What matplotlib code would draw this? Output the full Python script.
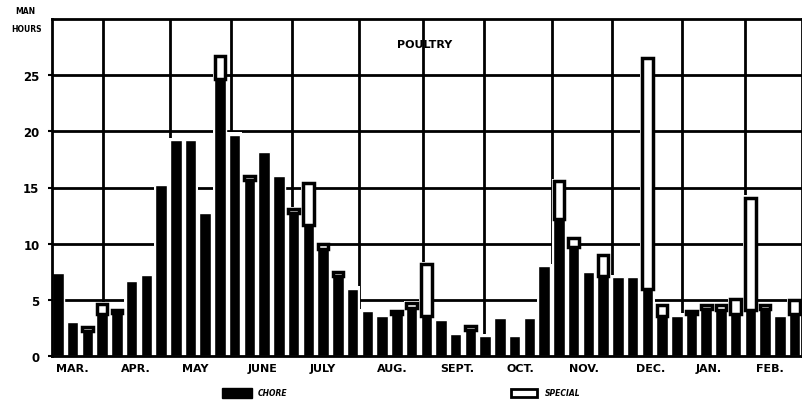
import matplotlib
matplotlib.use("Agg")
import matplotlib.pyplot as plt
from matplotlib.patches import Rectangle

# ---- data (man hours per week, poultry) ----
weeks = list(range(1, 52))
chore = [7.4, 3.0, 2.2, 3.7, 3.8, 6.7, 7.2, 15.2, 19.2, 19.2, 12.7, 24.7, 19.7,
         15.7, 18.2, 16.0, 12.7, 11.7, 9.5, 7.1, 6.0, 4.0, 3.6, 3.7, 4.3, 3.6,
         3.2, 2.0, 2.3, 1.8, 3.4, 1.8, 3.4, 8.0, 12.2, 9.7, 7.5, 7.1, 7.0, 7.0,
         6.0, 3.6, 3.6, 3.7, 4.2, 4.1, 3.7, 4.1, 4.2, 3.6, 3.7]
special = [0, 0, 0.4, 0.9, 0.3, 0, 0, 0, 0, 0, 0, 2.0, 0,
           0.3, 0, 0, 0.4, 3.7, 0.5, 0.4, 0, 0, 0, 0.3, 0.4, 4.6,
           0, 0, 0.4, 0, 0, 0, 0, 0, 3.4, 0.8, 0, 1.9, 0, 0,
           20.5, 0.9, 0, 0.3, 0.3, 0.4, 1.4, 10.0, 0.3, 0, 1.3]
months = ["MAR.", "APR.", "MAY", "JUNE", "JULY", "AUG.", "SEPT.", "OCT.",
          "NOV.", "DEC.", "JAN.", "FEB."]
month_label_pos = [2.0, 6.3, 10.35, 14.9, 18.95, 23.7, 28.1, 32.4, 36.7,
                   41.25, 45.2, 49.3]
month_bounds = [4.05, 8.59, 12.72, 16.92, 21.46, 25.8, 29.93, 34.54, 38.6,
                43.34, 47.6]
yticks = [0, 5, 10, 15, 20, 25]

total = [c + s for c, s in zip(chore, special)]

fig = plt.figure(figsize=(8.03, 4.02), dpi=100)
ax = fig.add_axes([52 / 803, 1 - 357 / 402, 750 / 803, (357 - 20) / 402])

# grid
for y in yticks[1:]:
    ax.axhline(y, color="black", lw=2.0, zorder=1)
for x in month_bounds:
    ax.axvline(x, color="black", lw=2.0, zorder=1)

# white slots hide the grid behind and between bars
ax.bar(weeks, [t + 0.2 for t in total], width=1.0, color="white",
       linewidth=0, zorder=2)

# bars
ax.bar(weeks, chore, width=0.78, color="black", edgecolor="white",
       linewidth=1.0, zorder=3)
spec_w = [w for w, s in zip(weeks, special) if s > 0]
spec_b = [c for c, s in zip(chore, special) if s > 0]
spec_h = [s for s in special if s > 0]
ax.bar(spec_w, spec_h, bottom=spec_b, width=0.72, color="white",
       edgecolor="black", linewidth=2.5, zorder=4)

ax.set_xlim(0.6, 51.5)
ax.set_ylim(0, 30)
for s in ax.spines.values():
    s.set_linewidth(2.0)
    s.set_zorder(5)
ax.set_yticks(yticks)
ax.set_yticklabels([str(v) for v in yticks], fontsize=8.5, fontweight="bold")
ax.tick_params(axis="y", length=3, width=1.5, pad=6)
ax.set_xticks(month_label_pos)
ax.set_xticklabels(months, fontsize=8, fontweight="bold")
ax.tick_params(axis="x", length=0, pad=5)

ax.text(25.86, 27.8, "POULTRY", ha="center", va="center", fontsize=8,
        fontweight="bold", zorder=6)
fig.text(25 / 803, 1 - 12 / 402, "MAN", ha="center", va="center",
         fontsize=5.5, fontweight="bold")
fig.text(27 / 803, 1 - 29 / 402, "HOURS", ha="center", va="center",
         fontsize=5.5, fontweight="bold")

# legend
fig.add_artist(Rectangle((222 / 803, 1 - 399 / 402), 30 / 803, 10 / 402,
                         transform=fig.transFigure, facecolor="black",
                         edgecolor="black"))
fig.text(258 / 803, 1 - 394 / 402, "CHORE", ha="left", va="center",
         fontsize=5.5, fontweight="bold", style="italic")
fig.add_artist(Rectangle((511 / 803, 1 - 398 / 402), 26 / 803, 8 / 402,
                         transform=fig.transFigure, facecolor="white",
                         edgecolor="black", linewidth=2))
fig.text(545 / 803, 1 - 394 / 402, "SPECIAL", ha="left", va="center",
         fontsize=5.5, fontweight="bold", style="italic")

fig.savefig("out.png", dpi=100)
